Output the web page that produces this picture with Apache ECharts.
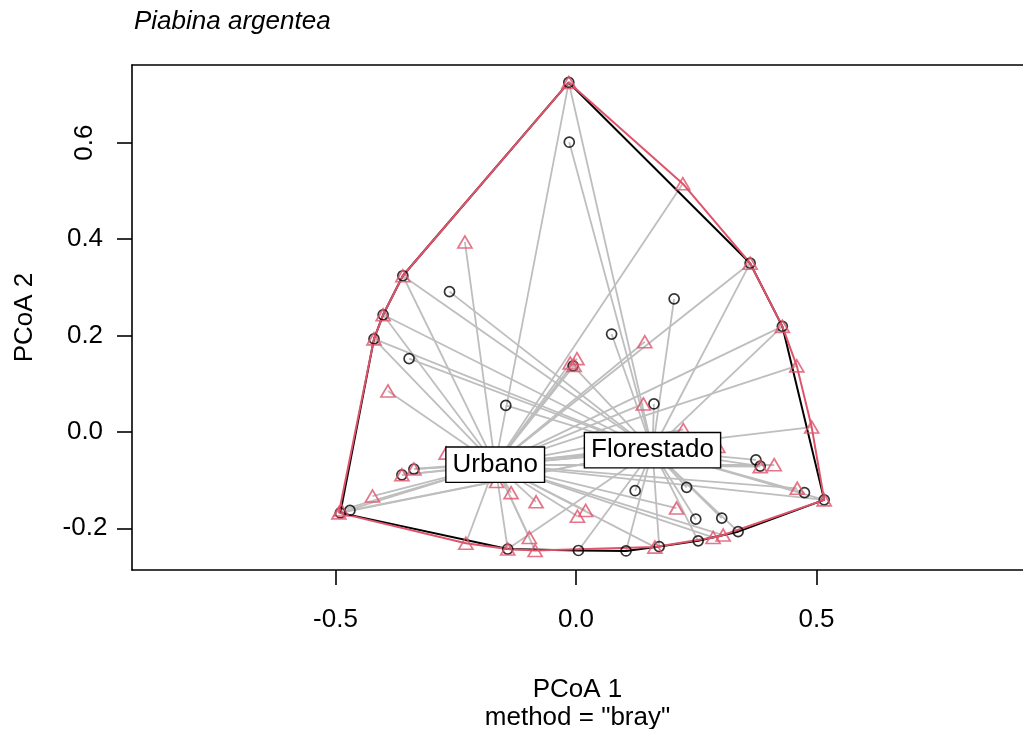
<!DOCTYPE html>
<html>
<head>
<meta charset="utf-8">
<script src="https://cdn.jsdelivr.net/npm/echarts@6/dist/echarts.min.js"></script>
<style>
  html, body { margin: 0; padding: 0; background: #fff; }
  #chart { width: 1023px; height: 729px; }
</style>
</head>
<body>
<div id="chart"></div>
<script>
// PCoA site scores (Bray-Curtis) for the two habitat groups
const florestadoX = [-0.015, -0.014, 0.362, -0.360, -0.263, -0.401, -0.420, -0.347, -0.146, -0.006,
                     0.204, 0.074, 0.429, 0.162, -0.337, -0.362, -0.470, -0.490, -0.142, 0.005,
                     0.374, 0.383, 0.475, 0.516, 0.123, 0.230, 0.249, 0.303, 0.337, 0.254,
                     0.173, 0.104];
const florestadoY = [0.725, 0.601, 0.350, 0.324, 0.291, 0.243, 0.193, 0.152, 0.055, 0.137,
                     0.276, 0.203, 0.219, 0.058, -0.077, -0.089, -0.163, -0.168, -0.243, -0.246,
                     -0.058, -0.071, -0.126, -0.141, -0.122, -0.115, -0.181, -0.179, -0.207, -0.226,
                     -0.238, -0.247];

const urbanoX = [-0.015, -0.231, 0.222, 0.362, -0.360, -0.401, -0.420, -0.391, -0.012, 0.002,
                 -0.004, 0.143, 0.429, 0.459, 0.140, 0.490, 0.223, -0.270, -0.337, -0.362,
                 -0.423, -0.493, -0.488, -0.165, -0.135, -0.083, 0.003, 0.020, -0.229, -0.142,
                 -0.097, -0.085, 0.383, 0.412, 0.460, 0.516, 0.209, 0.285, 0.306, 0.164,
                 0.295];
const urbanoY = [0.725, 0.394, 0.515, 0.350, 0.324, 0.243, 0.193, 0.085, 0.143, 0.152,
                 0.138, 0.187, 0.219, 0.137, 0.058, 0.010, 0.005, -0.044, -0.077, -0.089,
                 -0.133, -0.168, -0.162, -0.103, -0.126, -0.145, -0.175, -0.163, -0.231, -0.243,
                 -0.219, -0.246, -0.072, -0.068, -0.117, -0.141, -0.158, -0.219, -0.214, -0.239,
                 -0.030];

// group centroids
const groupNames = ['Florestado', 'Urbano'];
const centroidX = [0.159, -0.168];
const centroidY = [-0.038, -0.068];

// axis ticks
const xTicks = [-0.5, 0, 0.5];
const yTicks = [-0.2, 0, 0.2, 0.4];
const yTicksVertical = [0.6];

const FONT = "'Liberation Sans', Arial, Helvetica, sans-serif";
const FS = 26;
const RED = '#DF536B';

function pairs(xs, ys) { return xs.map((x, i) => [x, ys[i]]); }

// convex hull (monotone chain), closed
function hull(pts) {
  const p = pts.slice().sort((a, b) => a[0] - b[0] || a[1] - b[1]);
  const cross = (o, a, b) => (a[0] - o[0]) * (b[1] - o[1]) - (a[1] - o[1]) * (b[0] - o[0]);
  const lower = [], upper = [];
  for (const q of p) {
    while (lower.length >= 2 && cross(lower[lower.length - 2], lower[lower.length - 1], q) <= 0) lower.pop();
    lower.push(q);
  }
  for (let i = p.length - 1; i >= 0; i--) {
    const q = p[i];
    while (upper.length >= 2 && cross(upper[upper.length - 2], upper[upper.length - 1], q) <= 0) upper.pop();
    upper.push(q);
  }
  upper.pop(); lower.pop();
  const h = lower.concat(upper);
  h.push(h[0]);
  return h;
}

function segments(pts, cx, cy) {
  return pts.map(p => ({ coords: [[cx, cy], p] }));
}

const floPts = pairs(florestadoX, florestadoY);
const urbPts = pairs(urbanoX, urbanoY);

const xMin = -0.9231, xMax = 0.9293;
const yMin = -0.2865, yMax = 0.7612;

const fmt = v => Number(v).toFixed(1);

const chart = echarts.init(document.getElementById('chart'), null, { renderer: 'canvas' });
chart.setOption({
  animation: false,
  backgroundColor: '#fff',
  textStyle: { fontFamily: FONT },
  title: {
    text: 'Piabina argentea',
    left: 134, top: 9, padding: 0,
    textStyle: { fontFamily: FONT, fontSize: FS, fontStyle: 'italic', fontWeight: 'normal', color: '#000' }
  },
  grid: { left: 132, right: 0, top: 65, bottom: 159, containLabel: false, outerBoundsMode: 'none' },
  xAxis: [{
    type: 'value', min: xMin, max: xMax, position: 'bottom',
    name: 'PCoA 1\nmethod = "bray"', nameLocation: 'middle', nameGap: 106,
    nameTextStyle: { fontFamily: FONT, fontSize: FS, color: '#000', lineHeight: 28 },
    axisLine: { show: true, onZero: false, lineStyle: { color: '#000', width: 1.6 } },
    axisTick: { show: true, length: 15, customValues: xTicks, lineStyle: { color: '#000', width: 1.6 } },
    axisLabel: { show: true, customValues: xTicks, formatter: fmt, margin: 37,
                 fontFamily: FONT, fontSize: FS, color: '#000' },
    splitLine: { show: false }
  }, {
    type: 'value', min: xMin, max: xMax, position: 'top',
    axisLine: { show: true, onZero: false, lineStyle: { color: '#000', width: 1.6 } },
    axisTick: { show: false }, axisLabel: { show: false }, splitLine: { show: false }
  }],
  yAxis: [{
    type: 'value', min: yMin, max: yMax, position: 'left',
    name: 'PCoA 2', nameLocation: 'middle', nameGap: 94, nameRotate: 90,
    nameTextStyle: { fontFamily: FONT, fontSize: FS, color: '#000' },
    axisLine: { show: true, onZero: false, lineStyle: { color: '#000', width: 1.6 } },
    axisTick: { show: true, length: 15, customValues: yTicks.concat(yTicksVertical), lineStyle: { color: '#000', width: 1.6 } },
    axisLabel: { show: true, customValues: yTicks, formatter: fmt, margin: 47, align: 'center',
                 verticalAlign: 'middle', fontFamily: FONT, fontSize: FS, color: '#000' },
    splitLine: { show: false }
  }, {
    type: 'value', min: yMin, max: yMax, position: 'left',
    axisLine: { show: false }, axisTick: { show: false },
    axisLabel: { show: true, customValues: yTicksVertical, formatter: fmt, rotate: 90, margin: 47,
                 align: 'center', verticalAlign: 'middle', fontFamily: FONT, fontSize: FS, color: '#000' },
    splitLine: { show: false }
  }],
  series: [
    {
      type: 'lines', coordinateSystem: 'cartesian2d', silent: true, z: 2,
      lineStyle: { color: '#BEBEBE', width: 1.8, opacity: 1 },
      data: segments(floPts, centroidX[0], centroidY[0])
    },
    {
      type: 'line', symbol: 'none', silent: true, z: 2,
      lineStyle: { color: '#000', width: 2 },
      data: hull(floPts)
    },
    {
      type: 'lines', coordinateSystem: 'cartesian2d', silent: true, z: 2,
      lineStyle: { color: '#BEBEBE', width: 1.8, opacity: 1 },
      data: segments(urbPts, centroidX[1], centroidY[1])
    },
    {
      type: 'line', symbol: 'none', silent: true, z: 2,
      lineStyle: { color: RED, width: 2 },
      data: hull(urbPts)
    },
    {
      type: 'scatter', symbol: 'circle', symbolSize: 8, silent: true, z: 3,
      itemStyle: { color: '#FF0000' },
      data: pairs(centroidX, centroidY)
    },
    {
      type: 'scatter', symbol: 'circle', symbolSize: 10, silent: true, z: 4,
      itemStyle: { color: 'rgba(0,0,0,0)', borderColor: '#000', borderWidth: 1.7 },
      data: floPts
    },
    {
      type: 'scatter', symbol: 'triangle', symbolSize: [14, 12], silent: true, z: 4,
      itemStyle: { color: 'rgba(0,0,0,0)', borderColor: RED, borderWidth: 1.7 },
      data: urbPts
    },
    {
      // boxed group names centred on each centroid
      type: 'custom', silent: true, z: 10,
      data: groupNames.map((n, i) => ({ name: n, value: [centroidX[i], centroidY[i]] })),
      renderItem: (params, api) => {
        const p = api.coord([api.value(0), api.value(1)]);
        return {
          type: 'text', x: p[0], y: p[1], z2: 100,
          style: {
            text: groupNames[params.dataIndex],
            font: FS + 'px ' + FONT, fill: '#000',
            align: 'center', verticalAlign: 'middle', lineHeight: 26,
            backgroundColor: '#fff', borderColor: '#000', borderWidth: 1.4, padding: [4, 6]
          }
        };
      }
    }
  ]
});
</script>
</body>
</html>
